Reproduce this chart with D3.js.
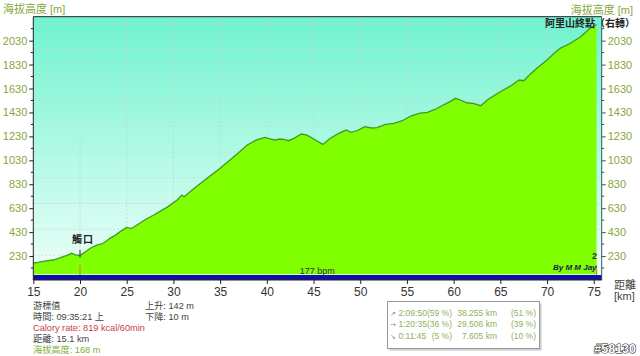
<!DOCTYPE html>
<html><head><meta charset="utf-8">
<script src="https://cdn.jsdelivr.net/npm/d3@7"></script>
<style>body{margin:0;background:#fff} svg{display:block}</style>
</head><body>
<svg id="c" width="640" height="356"></svg>
<script>
// ---- data ----
const distKm = [15,15.5,16.2,17.1,17.7,18.2,18.7,19.1,19.5,19.9,20.1,20.5,21.1,21.8,22.5,23.2,23.8,24.3,25.0,25.5,26.4,27.1,27.9,28.6,29.3,30.4,30.9,31.15,32.1,33.6,35.0,36.4,37.1,37.9,38.9,39.8,40.3,40.9,41.4,41.8,42.3,42.9,43.7,44.3,45.2,46.0,46.8,47.7,48.5,49.0,49.65,50.5,51.2,51.8,52.7,53.6,54.5,55.4,56.4,57.2,58.0,58.6,59.6,60.2,60.7,61.4,62.1,62.9,63.6,64.3,65.0,66.1,67.0,67.5,68.2,68.9,70.0,70.7,71.4,72.5,73.6,74.6,75.3];
const elevM = [172,178,188,197,210,225,238,253,240,236,240,262,295,322,337,378,405,434,470,460,504,540,573,605,637,698,740,726,788,880,963,1055,1102,1158,1200,1222,1210,1200,1208,1205,1194,1214,1250,1241,1200,1163,1214,1255,1283,1264,1277,1311,1300,1303,1331,1339,1361,1400,1425,1430,1455,1480,1520,1548,1534,1511,1506,1486,1534,1570,1603,1651,1701,1695,1750,1799,1868,1920,1966,2008,2063,2133,2165];
const xTickKm = [15,20,25,30,35,40,45,50,55,60,65,70,75];
const yTickM = [230,430,630,830,1030,1230,1430,1630,1830,2030];
const yMinorM = [130,330,530,730,930,1130,1330,1530,1730,1930,2130];
const gridXKm = [20,25,30,35,40,45,50,55,60,65,70,75];
const gridYM = [239,454,669,884,1099,1314,1529,1744,1959,2174];
const waypointKm = [20, 75.3];
const waypointNames = ["觸口", "阿里山終點（右轉）"];
const yTitle = "海拔高度 [m]";
const xTitle = ["距離", "[km]"];
const hrLabel = "177 bpm";
const cursorLeft = [
  {t:"游標值", c:"#444"},
  {t:"時間: 09:35:21 上", c:"#444"},
  {t:"Calory rate: 819 kcal/60min", c:"#c8404c"},
  {t:"距離: 15.1 km", c:"#444"},
  {t:"海拔高度: 168 m", c:"#7cb23a"}
];
const cursorRight = ["上升: 142 m", "下降: 10 m"];
const statDir = ["↗","→","↘"];
const statTime = ["2:09:50","1:20:35","0:11:45"];
const statTimePct = ["(59 %)","(36 %)","(5 %)"];
const statDist = ["38.255 km","29.506 km","7.605 km"];
const statDistPct = ["(51 %)","(39 %)","(10 %)"];
const tag = "#58130";

// ---- layout ----
const svg = d3.select("#c");
const L = 33.3, R = 601.7, T = 16.7, B = 280;
const x = d3.scaleLinear().domain([15, 75.85]).range([L, R]);
const y = d3.scaleLinear().domain([30, 2230]).range([B, T]);
const font = "'Liberation Sans', Arial, sans-serif";
const cjk = "'Liberation Sans','Noto Sans CJK TC', sans-serif";
const olive = "#86a83e";

const defs = svg.append("defs");
const g = defs.append("linearGradient").attr("id","bg").attr("x1",0).attr("x2",0).attr("y1",0).attr("y2",1);
g.append("stop").attr("offset","0%").attr("stop-color","#6ff3cf");
g.append("stop").attr("offset","100%").attr("stop-color","#effffa");
defs.append("clipPath").attr("id","plotclip").append("rect").attr("x",L).attr("y",T).attr("width",R-L).attr("height",B-T);

svg.append("rect").attr("x",L).attr("y",T).attr("width",R-L).attr("height",B-T).attr("fill","url(#bg)");

// grid
const grid = svg.append("g").attr("stroke","#c4d6cf").attr("stroke-dasharray","2,2").attr("stroke-width",0.8);
grid.selectAll("line.gx").data(gridXKm).join("line").attr("x1",d=>x(d)).attr("x2",d=>x(d)).attr("y1",T).attr("y2",B);
grid.selectAll("line.gy").data(gridYM).join("line").attr("x1",L).attr("x2",R).attr("y1",d=>y(d)).attr("y2",d=>y(d));

// profile
const pts = distKm.map((d,i)=>[d, elevM[i]]);
const bandTop = B - 5;
const area = d3.area().x(d=>x(d[0])).y0(bandTop-0.8).y1(d=>y(d[1]));
const line = d3.line().x(d=>x(d[0])).y(d=>y(d[1]));
svg.append("path").datum(pts).attr("d",area).attr("fill","#80ff00").attr("clip-path","url(#plotclip)");
svg.append("path").datum(pts).attr("d",line).attr("fill","none").attr("stroke","#3f9a22").attr("stroke-width",1.3).attr("clip-path","url(#plotclip)");

// heart-rate band
svg.append("rect").attr("x",L).attr("y",bandTop).attr("width",R-L).attr("height",B-bandTop).attr("fill","#1010a8");
svg.append("text").attr("x",x(45.4)).attr("y",bandTop-1).attr("text-anchor","middle").attr("font-family",font).attr("font-size",9).attr("fill","#333").text(hrLabel);

// waypoint markers
waypointKm.forEach((k,i)=>{
  const ey = y(elevM[distKm.findIndex(d=>d>=k)]);
  if(i===0){
    svg.append("line").attr("x1",x(k)).attr("x2",x(k)).attr("y1",ey-5).attr("y2",ey+3).attr("stroke","#333").attr("stroke-width",1);
  }
  svg.append("line").attr("x1",x(k)).attr("x2",x(k)).attr("y1",bandTop-10).attr("y2",bandTop).attr("stroke","#d8862a").attr("stroke-width",1.2);
});
svg.append("text").attr("x",x(20)+3).attr("y",243).attr("text-anchor","middle").attr("font-family","'Noto Sans CJK TC'").attr("font-weight",700).attr("font-size",10).attr("letter-spacing",1).attr("fill","#222").text(waypointNames[0]);
svg.append("text").attr("x",545).attr("y",27).attr("font-family","'Noto Sans CJK TC'").attr("font-weight",700).attr("font-size",10).attr("fill","#222").text(waypointNames[1]);
svg.append("text").attr("x",592).attr("y",259).attr("font-family",font).attr("font-size",9).attr("font-weight",700).attr("fill","#333").text("2");
svg.append("text").attr("x",553).attr("y",270).attr("font-family",font).attr("font-size",8).attr("font-weight",700).attr("font-style","italic").attr("fill","#1a1a50").text("By M M Jay");

// frame
svg.append("line").attr("x1",L).attr("x2",R).attr("y1",T).attr("y2",T).attr("stroke","#222");

// left axis
const yl = svg.append("g").attr("transform",`translate(${L},0)`)
  .call(d3.axisLeft(y).tickValues(yTickM).tickSize(4).tickPadding(2).tickFormat(d3.format("d")));
yl.select(".domain").attr("d",`M0,${T}V${B}`).attr("stroke","#222");
yl.selectAll("text").attr("font-family",font).attr("font-size",11).attr("fill",olive);
yl.selectAll("line").attr("stroke","#222");
svg.append("g").selectAll("line").data(yMinorM).join("line").attr("x1",L-2.5).attr("x2",L).attr("y1",d=>y(d)).attr("y2",d=>y(d)).attr("stroke","#222");

// right axis
const yr = svg.append("g").attr("transform",`translate(${R},0)`)
  .call(d3.axisRight(y).tickValues(yTickM).tickSize(4).tickPadding(2).tickFormat(d3.format("d")));
yr.select(".domain").attr("d",`M0,${T}V${B}`).attr("stroke","#2f5a5a");
yr.selectAll("text").attr("font-family",font).attr("font-size",11).attr("fill",olive);
yr.selectAll("line").attr("stroke","#2f5a5a");
svg.append("g").selectAll("line").data(yMinorM).join("line").attr("x1",R).attr("x2",R+2.5).attr("y1",d=>y(d)).attr("y2",d=>y(d)).attr("stroke","#2f5a5a");

// bottom axis
const xa = svg.append("g").attr("transform",`translate(0,${B})`)
  .call(d3.axisBottom(x).tickValues(xTickKm).tickSize(4).tickPadding(3).tickFormat(d3.format("d")));
xa.select(".domain").attr("d",`M${L},0H${R}`).attr("stroke","#222");
xa.selectAll("text").attr("font-family",font).attr("font-size",12).attr("fill","#333");
xa.selectAll("line").attr("stroke","#222");

// axis titles
svg.append("text").attr("x",3).attr("y",13).attr("font-family",cjk).attr("font-size",11).attr("fill",olive).text(yTitle);
svg.append("text").attr("x",633).attr("y",14).attr("text-anchor","end").attr("font-family",cjk).attr("font-size",11).attr("fill",olive).text(yTitle);
svg.append("text").attr("x",614).attr("y",289).attr("font-family",cjk).attr("font-size",11).attr("fill","#444").text(xTitle[0]);
svg.append("text").attr("x",614).attr("y",300).attr("font-family",font).attr("font-size",11).attr("fill","#444").text(xTitle[1]);

// cursor info
svg.append("g").selectAll("text").data(cursorLeft).join("text")
  .attr("x",33).attr("y",(d,i)=>308.5+i*11.2).attr("font-family",cjk).attr("font-size",9.2).attr("fill",d=>d.c).text(d=>d.t);
svg.append("g").selectAll("text").data(cursorRight).join("text")
  .attr("x",145).attr("y",(d,i)=>308.5+i*11.2).attr("font-family",cjk).attr("font-size",9.2).attr("fill","#444").text(d=>d);

// stats box
svg.append("rect").attr("x",389.5).attr("y",303.5).attr("width",152).attr("height",47).attr("fill","#ccc");
svg.append("rect").attr("x",387.5).attr("y",301.5).attr("width",152).attr("height",47).attr("fill","#fff").attr("stroke","#999");
const sg = svg.append("g").attr("font-family",font).attr("font-size",8.5).attr("fill","#8fb060");
statDir.forEach((d,i)=>{
  const by = 316 + i*11.3;
  sg.append("text").attr("x",390).attr("y",by).attr("font-family","'DejaVu Sans'").attr("font-size",7).attr("fill","#888").text(d);
  sg.append("text").attr("x",398.5).attr("y",by).text(statTime[i]);
  sg.append("text").attr("x",452).attr("y",by).attr("text-anchor","end").text(statTimePct[i]);
  sg.append("text").attr("x",497).attr("y",by).attr("text-anchor","end").text(statDist[i]);
  sg.append("text").attr("x",536).attr("y",by).attr("text-anchor","end").text(statDistPct[i]);
});

// tag
svg.append("text").attr("x",636).attr("y",353).attr("text-anchor","end").attr("font-family",font).attr("font-size",12.5).attr("font-weight",700)
  .attr("fill","#fff").attr("stroke","#222").attr("stroke-width",1.1).attr("paint-order","stroke").text(tag);
</script>
</body></html>
